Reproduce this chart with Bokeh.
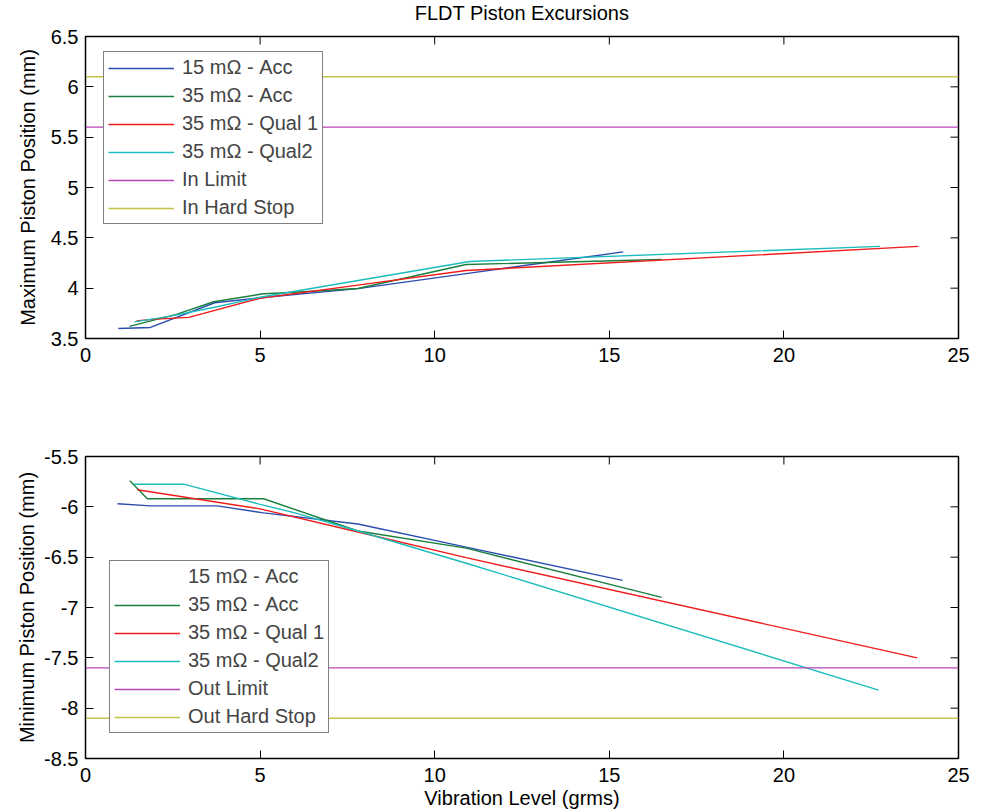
from bokeh.plotting import figure
from bokeh.models import Range1d, FixedTicker, Legend, LegendItem
from bokeh.core.properties import value
from bokeh.layouts import column
from bokeh.embed import file_html
from bokeh.resources import INLINE

# ---------------- data ----------------
TITLE = "FLDT Piston Excursions"
X_LABEL = "Vibration Level (grms)"
Y_LABEL_TOP = "Maximum Piston Position (mm)"
Y_LABEL_BOT = "Minimum Piston Position (mm)"

X_LIM = [0, 25]
X_TICKS = [0, 5, 10, 15, 20, 25]
X_TICK_LABELS = ["0", "5", "10", "15", "20", "25"]

Y_LIM_TOP = [3.5, 6.5]
Y_TICKS_TOP = [3.5, 4, 4.5, 5, 5.5, 6, 6.5]
Y_TICK_LABELS_TOP = ["3.5", "4", "4.5", "5", "5.5", "6", "6.5"]

Y_LIM_BOT = [-8.5, -5.5]
Y_TICKS_BOT = [-8.5, -8, -7.5, -7, -6.5, -6, -5.5]
Y_TICK_LABELS_BOT = ["-8.5", "-8", "-7.5", "-7", "-6.5", "-6", "-5.5"]

SERIES_NAMES = ["15 m\u03a9 - Acc", "35 m\u03a9 - Acc", "35 m\u03a9 - Qual 1", "35 m\u03a9 - Qual2"]
TOP_LIMIT_NAMES = ["In Limit", "In Hard Stop"]
BOT_LIMIT_NAMES = ["Out Limit", "Out Hard Stop"]

IN_LIMIT = 5.6
IN_HARD_STOP = 6.1
OUT_LIMIT = -7.6
OUT_HARD_STOP = -8.1

# maximum positions
acc15_top_x = [0.94, 1.86, 3.7, 5.0, 7.8, 10.9, 15.4]
acc15_top_y = [3.60, 3.61, 3.855, 3.905, 3.995, 4.145, 4.36]
acc35_top_x = [1.26, 2.6, 3.67, 5.1, 6.0, 7.8, 10.9, 16.5]
acc35_top_y = [3.62, 3.74, 3.865, 3.945, 3.96, 3.997, 4.235, 4.285]
qual1_top_x = [1.46, 1.9, 2.96, 5.0, 7.8, 10.9, 23.85]
qual1_top_y = [3.675, 3.69, 3.71, 3.90, 4.03, 4.175, 4.415]
qual2_top_x = [1.4, 2.4, 3.7, 5.0, 6.0, 11.0, 22.75]
qual2_top_y = [3.665, 3.72, 3.81, 3.91, 3.97, 4.265, 4.415]

# minimum positions
acc15_bot_x = [0.92, 1.86, 3.77, 5.1, 7.8, 10.9, 15.38]
acc15_bot_y = [-5.97, -5.99, -5.99, -6.06, -6.17, -6.40, -6.73]
acc35_bot_x = [1.27, 1.77, 5.1, 7.8, 10.9, 16.5]
acc35_bot_y = [-5.74, -5.92, -5.92, -6.24, -6.41, -6.90]
qual1_bot_x = [1.48, 5.0, 7.8, 10.9, 23.82]
qual1_bot_y = [-5.83, -6.02, -6.25, -6.505, -7.50]
qual2_bot_x = [1.38, 2.81, 5.0, 6.0, 7.8, 11.0, 22.71]
qual2_bot_y = [-5.775, -5.775, -5.975, -6.06, -6.24, -6.57, -7.82]

# ---------------- style ----------------
COLORS = ["#2c4db0", "#1a7f3c", "#f01c1c", "#1cbcbc"]
LIMIT_COLORS = ["#b845b8", "#c4c44a"]
FONT = "Liberation Sans"
FS = "20px"
W = 980
LEFT = 85
FRAME_W = 873
RIGHT = W - LEFT - FRAME_W
FRAME_H = 302
TICK_PX = 8
LW = 1.4
TITLE_H = 24


def style_axes(p, ylim, yticks, ylabels, ylabel, ylabel_standoff, xlabel=None):
    p.xgrid.visible = False
    p.ygrid.visible = False
    p.outline_line_color = "black"
    p.outline_line_width = 1.5
    p.outline_line_alpha = 1
    p.xaxis.ticker = FixedTicker(ticks=X_TICKS)
    p.xaxis.major_label_overrides = dict(zip(X_TICKS, X_TICK_LABELS))
    p.yaxis.ticker = FixedTicker(ticks=yticks)
    p.yaxis.major_label_overrides = dict(zip(yticks, ylabels))
    for ax in (p.xaxis[0], p.yaxis[0]):
        ax.major_tick_in = TICK_PX
        ax.major_tick_out = 0
        ax.minor_tick_line_color = None
        ax.major_label_text_font = FONT
        ax.major_label_text_font_size = FS
        ax.major_label_text_color = "black"
        ax.axis_line_color = "black"
        ax.major_tick_line_color = "black"
        ax.axis_label_text_font = FONT
        ax.axis_label_text_font_size = FS
        ax.axis_label_text_font_style = "normal"
        ax.axis_label_text_color = "black"
    p.xaxis.major_label_standoff = 9
    p.yaxis.major_label_standoff = 7
    p.yaxis.axis_label = ylabel
    p.yaxis.axis_label_standoff = ylabel_standoff
    if xlabel:
        p.xaxis.axis_label = xlabel
        p.xaxis.axis_label_standoff = 2
    # mirrored inward ticks on the top and right edges (box on)
    dy = (ylim[1] - ylim[0]) * TICK_PX / FRAME_H
    dx = (X_LIM[1] - X_LIM[0]) * TICK_PX / FRAME_W
    p.segment(x0=X_TICKS, y0=[ylim[1]] * len(X_TICKS), x1=X_TICKS,
              y1=[ylim[1] - dy] * len(X_TICKS), line_color="black", line_width=1)
    p.segment(x0=[X_LIM[1]] * len(yticks), y0=yticks, x1=[X_LIM[1] - dx] * len(yticks),
              y1=yticks, line_color="black", line_width=1)


def make_legend(p, renderers, names, loc):
    items = [LegendItem(label=n, renderers=[r]) for n, r in zip(names, renderers)]
    lg = Legend(items=items, location=loc, label_text_font=FONT, label_text_font_size=FS,
                glyph_width=66, glyph_height=20, label_height=20, label_standoff=8,
                spacing=5, padding=4, margin=0, border_line_color="black",
                border_line_width=1, background_fill_color="white", background_fill_alpha=1)
    p.add_layout(lg)


# ---------------- title strip ----------------
pt = figure(width=W, height=TITLE_H, x_range=Range1d(0, 1), y_range=Range1d(0, 1),
            output_backend="svg", toolbar_location=None, x_axis_location=None,
            y_axis_location=None, min_border_left=LEFT, min_border_right=RIGHT,
            min_border_top=0, min_border_bottom=0)
pt.outline_line_color = None
pt.grid.visible = False
pt.text(x=[0.5], y=[0.5], text=[TITLE], text_align="center", text_baseline="middle",
        text_font=value(FONT), text_font_size=value(FS), text_color="black")

# ---------------- top figure ----------------
H1 = 400 - TITLE_H
TOP1 = 36 - TITLE_H
p1 = figure(width=W, height=H1, x_range=Range1d(*X_LIM), y_range=Range1d(*Y_LIM_TOP),
            output_backend="svg", toolbar_location=None, min_border_left=LEFT,
            min_border_right=RIGHT, min_border_top=TOP1,
            min_border_bottom=H1 - TOP1 - FRAME_H)
style_axes(p1, Y_LIM_TOP, Y_TICKS_TOP, Y_TICK_LABELS_TOP, Y_LABEL_TOP, 9)

top_series = [(acc15_top_x, acc15_top_y), (acc35_top_x, acc35_top_y),
              (qual1_top_x, qual1_top_y), (qual2_top_x, qual2_top_y)]
r_top = []
for (xs, ys), c in zip(top_series, COLORS):
    r_top.append(p1.line(xs, ys, line_color=c, line_width=LW))
for yv, c in zip([IN_LIMIT, IN_HARD_STOP], LIMIT_COLORS):
    r_top.append(p1.line(X_LIM, [yv, yv], line_color=c, line_width=LW))
make_legend(p1, r_top, SERIES_NAMES + TOP_LIMIT_NAMES, (18, 114))

# ---------------- bottom figure ----------------
p2 = figure(width=W, height=411, x_range=Range1d(*X_LIM), y_range=Range1d(*Y_LIM_BOT),
            output_backend="svg", toolbar_location=None, min_border_left=LEFT,
            min_border_right=RIGHT, min_border_top=56,
            min_border_bottom=411 - 56 - FRAME_H)
style_axes(p2, Y_LIM_BOT, Y_TICKS_BOT, Y_TICK_LABELS_BOT, Y_LABEL_BOT, 3, X_LABEL)

bot_series = [(acc15_bot_x, acc15_bot_y), (acc35_bot_x, acc35_bot_y),
              (qual1_bot_x, qual1_bot_y), (qual2_bot_x, qual2_bot_y)]
r_bot = []
for (xs, ys), c in zip(bot_series, COLORS):
    r_bot.append(p2.line(xs, ys, line_color=c, line_width=LW))
# the first legend entry shows no line sample in the reference
r_bot[0] = p2.line(acc15_bot_x, acc15_bot_y, line_color="white", line_alpha=0, line_width=LW)
for yv, c in zip([OUT_LIMIT, OUT_HARD_STOP], LIMIT_COLORS):
    r_bot.append(p2.line(X_LIM, [yv, yv], line_color=c, line_width=LW))
make_legend(p2, r_bot, SERIES_NAMES + BOT_LIMIT_NAMES, (24, 25))

layout = column(pt, p1, p2, spacing=0)
open("out.html", "w").write(file_html(layout, INLINE))
